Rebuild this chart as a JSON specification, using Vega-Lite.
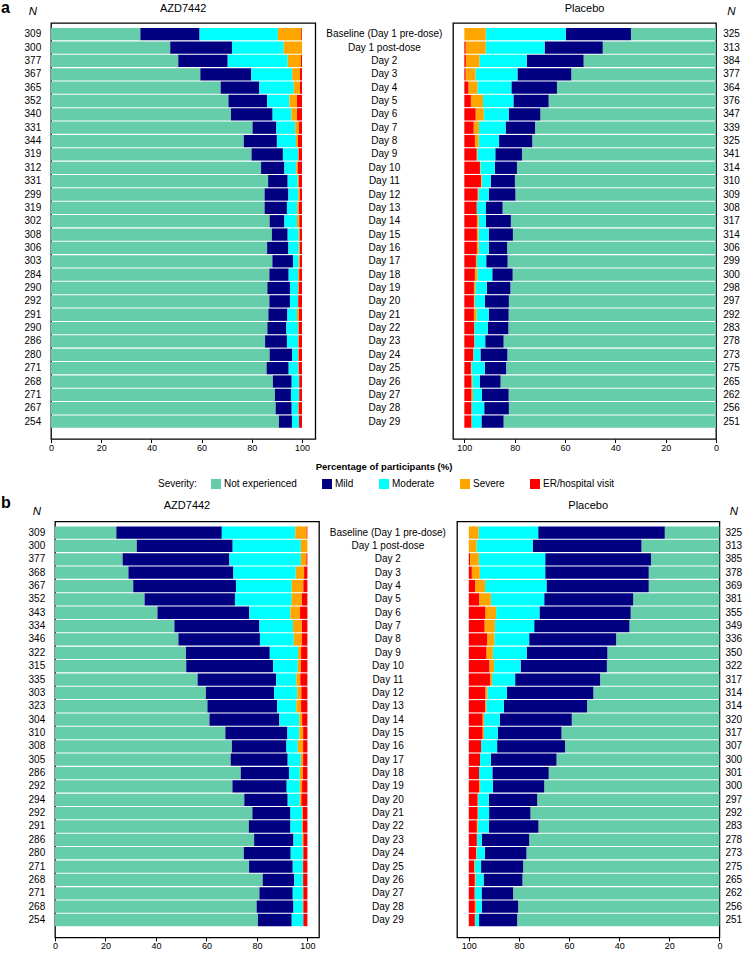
{
"$schema":"https://vega.github.io/schema/vega-lite/v6.json",
"padding":{"left":1,"top":0,"right":0,"bottom":0},
"config":{"view":{"stroke":null},"font":"Liberation Sans",
"title":{"font":"Liberation Sans","color":"#000","fontWeight":"normal","baseline":"alphabetic","frame":"group"},
"axis":{"labelFont":"Liberation Sans","labelColor":"#000","domain":false,"grid":false,"tickColor":"#000","tickSize":3.5,"tickWidth":1,"labelFontSize":9,"labelPadding":1,"labelFlush":false},
"text":{"font":"Liberation Sans","fontSize":10,"color":"#000"},
"legend":{"orient":"none","legendX":157,"legendY":456,"direction":"horizontal","columns":5,"titleOrient":"left","titleFontSize":10,"titleFontWeight":"normal","titleFont":"Liberation Sans","titleColor":"#000","labelFont":"Liberation Sans","labelFontSize":10,"labelColor":"#000","symbolType":"square","symbolSize":100,"symbolStrokeWidth":0,"columnPadding":25,"labelOffset":3,"titlePadding":14}},
"datasets":{
"sev":[{"k":"ne","s":"Not experienced","o":1},{"k":"mi","s":"Mild","o":2},{"k":"mo","s":"Moderate","o":3},{"k":"se","s":"Severe","o":4},{"k":"er","s":"ER/hospital visit","o":5}],
"rows":[
{"p":"a","g":"A","d":"Baseline (Day 1 pre-dose)","n":309,"ne":35.6,"mi":23.6,"mo":31.2,"se":9.3,"er":0.3},
{"p":"a","g":"A","d":"Day 1 post-dose","n":300,"ne":47.5,"mi":24.6,"mo":20.6,"se":7.3,"er":0},
{"p":"a","g":"A","d":"Day 2","n":377,"ne":50.7,"mi":19.7,"mo":23.9,"se":5.3,"er":0.4},
{"p":"a","g":"A","d":"Day 3","n":367,"ne":59.5,"mi":20.3,"mo":16.3,"se":3.1,"er":0.8},
{"p":"a","g":"A","d":"Day 4","n":365,"ne":67.6,"mi":15.4,"mo":13.7,"se":2.5,"er":0.8},
{"p":"a","g":"A","d":"Day 5","n":352,"ne":70.7,"mi":15.4,"mo":8.9,"se":3.0,"er":2.0},
{"p":"a","g":"A","d":"Day 6","n":340,"ne":71.7,"mi":16.6,"mo":7.5,"se":2.2,"er":2.0},
{"p":"a","g":"A","d":"Day 7","n":331,"ne":80.3,"mi":9.5,"mo":7.5,"se":1.5,"er":1.2},
{"p":"a","g":"A","d":"Day 8","n":344,"ne":76.8,"mi":13.2,"mo":7.6,"se":0.8,"er":1.6},
{"p":"a","g":"A","d":"Day 9","n":319,"ne":79.9,"mi":12.5,"mo":6.0,"se":0.3,"er":1.3},
{"p":"a","g":"A","d":"Day 10","n":312,"ne":83.7,"mi":9.3,"mo":4.7,"se":0.6,"er":1.7},
{"p":"a","g":"A","d":"Day 11","n":331,"ne":86.5,"mi":7.8,"mo":4.0,"se":0.4,"er":1.3},
{"p":"a","g":"A","d":"Day 12","n":299,"ne":85.1,"mi":9.5,"mo":3.9,"se":0.6,"er":0.9},
{"p":"a","g":"A","d":"Day 13","n":319,"ne":85.1,"mi":8.9,"mo":4.1,"se":0.6,"er":1.3},
{"p":"a","g":"A","d":"Day 14","n":302,"ne":87.1,"mi":5.9,"mo":5.0,"se":0.9,"er":1.1},
{"p":"a","g":"A","d":"Day 15","n":308,"ne":88.0,"mi":6.3,"mo":4.4,"se":0.4,"er":0.9},
{"p":"a","g":"A","d":"Day 16","n":306,"ne":86.1,"mi":8.5,"mo":4.1,"se":0.4,"er":0.9},
{"p":"a","g":"A","d":"Day 17","n":303,"ne":88.2,"mi":8.2,"mo":2.3,"se":0.4,"er":0.9},
{"p":"a","g":"A","d":"Day 18","n":284,"ne":87.0,"mi":7.7,"mo":3.7,"se":0.5,"er":1.1},
{"p":"a","g":"A","d":"Day 19","n":290,"ne":86.2,"mi":9.0,"mo":3.2,"se":0.3,"er":1.3},
{"p":"a","g":"A","d":"Day 20","n":292,"ne":87.0,"mi":8.2,"mo":3.2,"se":0.1,"er":1.5},
{"p":"a","g":"A","d":"Day 21","n":291,"ne":86.6,"mi":7.6,"mo":3.8,"se":0.8,"er":1.2},
{"p":"a","g":"A","d":"Day 22","n":290,"ne":86.2,"mi":7.6,"mo":4.6,"se":0.3,"er":1.3},
{"p":"a","g":"A","d":"Day 23","n":286,"ne":85.3,"mi":8.7,"mo":4.4,"se":0.3,"er":1.3},
{"p":"a","g":"A","d":"Day 24","n":280,"ne":87.1,"mi":9.0,"mo":2.3,"se":0.3,"er":1.3},
{"p":"a","g":"A","d":"Day 25","n":271,"ne":85.9,"mi":8.8,"mo":3.8,"se":0.2,"er":1.3},
{"p":"a","g":"A","d":"Day 26","n":268,"ne":88.4,"mi":7.5,"mo":2.9,"se":0.1,"er":1.1},
{"p":"a","g":"A","d":"Day 27","n":271,"ne":89.2,"mi":6.4,"mo":3.2,"se":0.1,"er":1.1},
{"p":"a","g":"A","d":"Day 28","n":267,"ne":89.5,"mi":6.4,"mo":2.5,"se":0.3,"er":1.3},
{"p":"a","g":"A","d":"Day 29","n":254,"ne":90.8,"mi":5.2,"mo":2.8,"se":0,"er":1.2},
{"p":"a","g":"P","d":"Baseline (Day 1 pre-dose)","n":325,"ne":33.8,"mi":25.9,"mo":31.8,"se":8.5,"er":0},
{"p":"a","g":"P","d":"Day 1 post-dose","n":313,"ne":45.0,"mi":23.1,"mo":23.4,"se":8.0,"er":0.5},
{"p":"a","g":"P","d":"Day 2","n":384,"ne":52.6,"mi":22.6,"mo":18.8,"se":5.4,"er":0.6},
{"p":"a","g":"P","d":"Day 3","n":377,"ne":57.5,"mi":21.4,"mo":16.7,"se":3.9,"er":0.5},
{"p":"a","g":"P","d":"Day 4","n":364,"ne":63.2,"mi":18.1,"mo":13.5,"se":3.6,"er":1.6},
{"p":"a","g":"P","d":"Day 5","n":376,"ne":66.5,"mi":14.0,"mo":12.1,"se":4.8,"er":2.6},
{"p":"a","g":"P","d":"Day 6","n":347,"ne":69.8,"mi":12.6,"mo":9.9,"se":3.2,"er":4.5},
{"p":"a","g":"P","d":"Day 7","n":339,"ne":71.9,"mi":11.7,"mo":10.6,"se":2.1,"er":3.7},
{"p":"a","g":"P","d":"Day 8","n":325,"ne":73.0,"mi":13.2,"mo":8.1,"se":1.5,"er":4.2},
{"p":"a","g":"P","d":"Day 9","n":341,"ne":77.1,"mi":10.6,"mo":7.1,"se":0.3,"er":4.9},
{"p":"a","g":"P","d":"Day 10","n":314,"ne":79.1,"mi":8.8,"mo":5.7,"se":0.2,"er":6.2},
{"p":"a","g":"P","d":"Day 11","n":310,"ne":79.9,"mi":9.6,"mo":3.6,"se":0.3,"er":6.6},
{"p":"a","g":"P","d":"Day 12","n":309,"ne":79.7,"mi":10.6,"mo":4.1,"se":0.3,"er":5.3},
{"p":"a","g":"P","d":"Day 13","n":308,"ne":84.8,"mi":6.6,"mo":3.6,"se":0.1,"er":4.9},
{"p":"a","g":"P","d":"Day 14","n":317,"ne":81.5,"mi":9.9,"mo":3.0,"se":0.6,"er":5.0},
{"p":"a","g":"P","d":"Day 15","n":314,"ne":80.7,"mi":9.6,"mo":4.1,"se":0.6,"er":5.0},
{"p":"a","g":"P","d":"Day 16","n":306,"ne":83.0,"mi":7.3,"mo":4.0,"se":0.7,"er":5.0},
{"p":"a","g":"P","d":"Day 17","n":299,"ne":82.8,"mi":8.5,"mo":3.7,"se":0.4,"er":4.6},
{"p":"a","g":"P","d":"Day 18","n":300,"ne":80.8,"mi":8.1,"mo":5.9,"se":1.0,"er":4.2},
{"p":"a","g":"P","d":"Day 19","n":298,"ne":81.7,"mi":9.4,"mo":4.5,"se":0.6,"er":3.8},
{"p":"a","g":"P","d":"Day 20","n":297,"ne":82.3,"mi":9.5,"mo":4.1,"se":0.3,"er":3.8},
{"p":"a","g":"P","d":"Day 21","n":292,"ne":82.4,"mi":7.9,"mo":4.8,"se":1.1,"er":3.8},
{"p":"a","g":"P","d":"Day 22","n":283,"ne":82.5,"mi":8.2,"mo":5.3,"se":0.1,"er":3.9},
{"p":"a","g":"P","d":"Day 23","n":278,"ne":84.4,"mi":7.3,"mo":4.3,"se":0.1,"er":3.9},
{"p":"a","g":"P","d":"Day 24","n":273,"ne":82.9,"mi":10.7,"mo":2.8,"se":0.1,"er":3.5},
{"p":"a","g":"P","d":"Day 25","n":275,"ne":83.4,"mi":8.5,"mo":5.3,"se":0.2,"er":2.6},
{"p":"a","g":"P","d":"Day 26","n":265,"ne":85.6,"mi":8.3,"mo":2.9,"se":0.4,"er":2.8},
{"p":"a","g":"P","d":"Day 27","n":262,"ne":82.4,"mi":10.6,"mo":3.6,"se":0.6,"er":2.8},
{"p":"a","g":"P","d":"Day 28","n":256,"ne":82.3,"mi":9.8,"mo":5.0,"se":0.1,"er":2.8},
{"p":"a","g":"P","d":"Day 29","n":251,"ne":84.4,"mi":8.8,"mo":3.9,"se":0.1,"er":2.8},
{"p":"b","g":"A","d":"Baseline (Day 1 pre-dose)","n":309,"ne":24.3,"mi":41.8,"mo":29.1,"se":4.5,"er":0.3},
{"p":"b","g":"A","d":"Day 1 post-dose","n":300,"ne":32.4,"mi":38.0,"mo":27.0,"se":2.6,"er":0},
{"p":"b","g":"A","d":"Day 2","n":377,"ne":26.8,"mi":42.3,"mo":28.3,"se":2.2,"er":0.4},
{"p":"b","g":"A","d":"Day 3","n":368,"ne":29.1,"mi":41.6,"mo":24.7,"se":3.3,"er":1.3},
{"p":"b","g":"A","d":"Day 4","n":367,"ne":31.0,"mi":40.7,"mo":22.1,"se":4.6,"er":1.6},
{"p":"b","g":"A","d":"Day 5","n":352,"ne":35.5,"mi":35.8,"mo":22.5,"se":4.0,"er":2.2},
{"p":"b","g":"A","d":"Day 6","n":343,"ne":40.6,"mi":36.4,"mo":16.3,"se":3.8,"er":2.9},
{"p":"b","g":"A","d":"Day 7","n":334,"ne":47.3,"mi":33.7,"mo":13.3,"se":3.5,"er":2.2},
{"p":"b","g":"A","d":"Day 8","n":346,"ne":48.9,"mi":32.3,"mo":13.4,"se":3.2,"er":2.2},
{"p":"b","g":"A","d":"Day 9","n":322,"ne":51.9,"mi":33.2,"mo":11.2,"se":1.2,"er":2.5},
{"p":"b","g":"A","d":"Day 10","n":315,"ne":52.0,"mi":34.4,"mo":9.8,"se":1.2,"er":2.6},
{"p":"b","g":"A","d":"Day 11","n":335,"ne":56.5,"mi":31.1,"mo":8.0,"se":1.6,"er":2.8},
{"p":"b","g":"A","d":"Day 12","n":303,"ne":59.8,"mi":27.0,"mo":9.2,"se":1.6,"er":2.4},
{"p":"b","g":"A","d":"Day 13","n":323,"ne":60.4,"mi":27.6,"mo":7.6,"se":1.9,"er":2.5},
{"p":"b","g":"A","d":"Day 14","n":304,"ne":61.2,"mi":27.7,"mo":7.9,"se":1.1,"er":2.1},
{"p":"b","g":"A","d":"Day 15","n":310,"ne":67.5,"mi":24.6,"mo":4.7,"se":1.5,"er":1.7},
{"p":"b","g":"A","d":"Day 16","n":308,"ne":70.1,"mi":21.6,"mo":4.5,"se":2.1,"er":1.7},
{"p":"b","g":"A","d":"Day 17","n":305,"ne":69.6,"mi":22.6,"mo":5.2,"se":0.9,"er":1.7},
{"p":"b","g":"A","d":"Day 18","n":286,"ne":73.6,"mi":19.1,"mo":4.3,"se":1.2,"er":1.8},
{"p":"b","g":"A","d":"Day 19","n":292,"ne":70.3,"mi":21.5,"mo":5.2,"se":0.9,"er":2.1},
{"p":"b","g":"A","d":"Day 20","n":294,"ne":75.0,"mi":17.2,"mo":4.8,"se":0.6,"er":2.4},
{"p":"b","g":"A","d":"Day 21","n":292,"ne":78.2,"mi":15.1,"mo":4.6,"se":0.3,"er":1.8},
{"p":"b","g":"A","d":"Day 22","n":291,"ne":76.8,"mi":16.5,"mo":4.6,"se":0.3,"er":1.8},
{"p":"b","g":"A","d":"Day 23","n":286,"ne":78.9,"mi":15.6,"mo":3.5,"se":0.4,"er":1.6},
{"p":"b","g":"A","d":"Day 24","n":280,"ne":74.8,"mi":18.6,"mo":4.8,"se":0.2,"er":1.6},
{"p":"b","g":"A","d":"Day 25","n":271,"ne":76.9,"mi":17.3,"mo":4.0,"se":0.1,"er":1.7},
{"p":"b","g":"A","d":"Day 26","n":268,"ne":82.3,"mi":12.5,"mo":3.4,"se":0.1,"er":1.7},
{"p":"b","g":"A","d":"Day 27","n":271,"ne":81.0,"mi":13.2,"mo":4.0,"se":0.2,"er":1.6},
{"p":"b","g":"A","d":"Day 28","n":268,"ne":79.9,"mi":14.6,"mo":3.7,"se":0.2,"er":1.6},
{"p":"b","g":"A","d":"Day 29","n":254,"ne":80.4,"mi":13.4,"mo":4.6,"se":0,"er":1.6},
{"p":"b","g":"P","d":"Baseline (Day 1 pre-dose)","n":325,"ne":21.8,"mi":50.5,"mo":23.8,"se":3.9,"er":0},
{"p":"b","g":"P","d":"Day 1 post-dose","n":313,"ne":31.1,"mi":43.4,"mo":22.4,"se":3.1,"er":0},
{"p":"b","g":"P","d":"Day 2","n":385,"ne":27.3,"mi":42.2,"mo":26.5,"se":3.5,"er":0.5},
{"p":"b","g":"P","d":"Day 3","n":378,"ne":28.2,"mi":41.3,"mo":26.1,"se":3.2,"er":1.2},
{"p":"b","g":"P","d":"Day 4","n":369,"ne":28.2,"mi":40.8,"mo":24.5,"se":4.0,"er":2.5},
{"p":"b","g":"P","d":"Day 5","n":381,"ne":34.4,"mi":35.5,"mo":21.3,"se":4.7,"er":4.1},
{"p":"b","g":"P","d":"Day 6","n":355,"ne":35.4,"mi":36.4,"mo":17.3,"se":4.3,"er":6.6},
{"p":"b","g":"P","d":"Day 7","n":349,"ne":35.9,"mi":38.0,"mo":15.7,"se":4.1,"er":6.3},
{"p":"b","g":"P","d":"Day 8","n":336,"ne":41.2,"mi":34.7,"mo":13.9,"se":2.9,"er":7.3},
{"p":"b","g":"P","d":"Day 9","n":350,"ne":44.7,"mi":32.2,"mo":13.5,"se":2.6,"er":7.0},
{"p":"b","g":"P","d":"Day 10","n":322,"ne":44.9,"mi":34.4,"mo":10.6,"se":1.9,"er":8.2},
{"p":"b","g":"P","d":"Day 11","n":317,"ne":47.6,"mi":33.9,"mo":9.2,"se":0.8,"er":8.5},
{"p":"b","g":"P","d":"Day 12","n":314,"ne":50.3,"mi":34.5,"mo":7.8,"se":0.8,"er":6.6},
{"p":"b","g":"P","d":"Day 13","n":314,"ne":52.8,"mi":33.2,"mo":7.0,"se":0.5,"er":6.5},
{"p":"b","g":"P","d":"Day 14","n":320,"ne":58.9,"mi":28.7,"mo":6.3,"se":0.6,"er":5.5},
{"p":"b","g":"P","d":"Day 15","n":317,"ne":63.0,"mi":25.4,"mo":5.5,"se":0.6,"er":5.5},
{"p":"b","g":"P","d":"Day 16","n":307,"ne":61.6,"mi":27.1,"mo":6.4,"se":0,"er":4.9},
{"p":"b","g":"P","d":"Day 17","n":300,"ne":65.0,"mi":26.2,"mo":4.3,"se":0,"er":4.5},
{"p":"b","g":"P","d":"Day 18","n":301,"ne":68.1,"mi":22.5,"mo":5.3,"se":0,"er":4.1},
{"p":"b","g":"P","d":"Day 19","n":300,"ne":69.9,"mi":20.5,"mo":5.1,"se":0.4,"er":4.1},
{"p":"b","g":"P","d":"Day 20","n":297,"ne":72.7,"mi":19.3,"mo":4.3,"se":0.2,"er":3.5},
{"p":"b","g":"P","d":"Day 21","n":292,"ne":75.4,"mi":16.5,"mo":4.4,"se":0.2,"er":3.5},
{"p":"b","g":"P","d":"Day 22","n":283,"ne":72.2,"mi":19.8,"mo":4.4,"se":0.4,"er":3.2},
{"p":"b","g":"P","d":"Day 23","n":278,"ne":75.9,"mi":18.9,"mo":1.9,"se":0.1,"er":3.2},
{"p":"b","g":"P","d":"Day 24","n":273,"ne":77.0,"mi":16.6,"mo":3.3,"se":0.2,"er":2.9},
{"p":"b","g":"P","d":"Day 25","n":275,"ne":78.3,"mi":16.8,"mo":2.5,"se":0.3,"er":2.1},
{"p":"b","g":"P","d":"Day 26","n":265,"ne":78.6,"mi":15.5,"mo":3.2,"se":0.3,"er":2.4},
{"p":"b","g":"P","d":"Day 27","n":262,"ne":82.3,"mi":12.6,"mo":2.7,"se":0.1,"er":2.3},
{"p":"b","g":"P","d":"Day 28","n":256,"ne":80.3,"mi":14.5,"mo":2.3,"se":0.5,"er":2.4},
{"p":"b","g":"P","d":"Day 29","n":251,"ne":80.7,"mi":15.2,"mo":1.6,"se":0.1,"er":2.4}
]},
"data":{"name":"rows"},
"spacing":23.4,
"vconcat":[
{"hconcat":[
 {"width":14,"height":416,"data":{"values":[{"t":""}]},"title":{"text":"a","fontSize":16,"fontWeight":"bold","anchor":"start","offset":7},"mark":"text","encoding":{"text":{"field":"t"}}},
 {"width":35.7,"height":416,"title":{"text":"N","fontSize":11.5,"fontStyle":"italic","offset":5.3},"transform":[{"filter":"datum.p=='a' && datum.g=='A'"}],"mark":"text","encoding":{"y":{"field":"d","type":"nominal","sort":null,"axis":null,"scale":{"type":"band","paddingInner":0.08,"paddingOuter":0.61,"align":0.31}},"text":{"field":"n"}}},
 {"width":264.3,"height":416,"view":{"stroke":"#000","strokeWidth":1.3},"title":{"text":"AZD7442","fontSize":11,"offset":8.7},
  "transform":[{"filter":"datum.p=='a' && datum.g=='A'"},{"fold":["ne","mi","mo","se","er"],"as":["k","v"]},{"lookup":"k","from":{"data":{"name":"sev"},"key":"k","fields":["s","o"]}}],
  "mark":"bar","encoding":{"y":{"field":"d","type":"nominal","sort":null,"axis":null,"scale":{"type":"band","paddingInner":0.08,"paddingOuter":0.61,"align":0.31}},
  "x":{"field":"v","type":"quantitative","stack":"zero","scale":{"domain":[0,105.3],"nice":false},"axis":{"values":[0,20,40,60,80,100],"title":null}},
  "color":{"field":"s","type":"nominal","title":"Severity:","scale":{"domain":["Not experienced","Mild","Moderate","Severe","ER/hospital visit"],"range":["#66CDAA","#000080","#00FFFF","#FFA500","#FF0000"]}},
  "order":{"field":"o","type":"quantitative"}}},
 {"width":136.7,"height":416,"transform":[{"filter":"datum.p=='a' && datum.g=='A'"}],"mark":"text","encoding":{"y":{"field":"d","type":"nominal","sort":null,"axis":null,"scale":{"type":"band","paddingInner":0.08,"paddingOuter":0.61,"align":0.31}},"text":{"field":"d"}}},
 {"width":263,"height":416,"view":{"stroke":"#000","strokeWidth":1.3},"title":{"text":"Placebo","fontSize":11,"offset":9.3},
  "transform":[{"filter":"datum.p=='a' && datum.g=='P'"},{"fold":["ne","mi","mo","se","er"],"as":["k","v"]},{"lookup":"k","from":{"data":{"name":"sev"},"key":"k","fields":["s","o"]}}],
  "mark":"bar","encoding":{"y":{"field":"d","type":"nominal","sort":null,"axis":null,"scale":{"type":"band","paddingInner":0.08,"paddingOuter":0.61,"align":0.31}},
  "x":{"field":"v","type":"quantitative","stack":"zero","scale":{"domain":[0,104.5],"nice":false,"reverse":true},"axis":{"values":[0,20,40,60,80,100],"title":null}},
  "color":{"field":"s","type":"nominal","title":"Severity:","scale":{"domain":["Not experienced","Mild","Moderate","Severe","ER/hospital visit"],"range":["#66CDAA","#000080","#00FFFF","#FFA500","#FF0000"]}},
  "order":{"field":"o","type":"quantitative"}}},
 {"width":31,"height":416,"title":{"text":"N","fontSize":11.5,"fontStyle":"italic","offset":5.3},"transform":[{"filter":"datum.p=='a' && datum.g=='P'"}],"mark":"text","encoding":{"y":{"field":"d","type":"nominal","sort":null,"axis":null,"scale":{"type":"band","paddingInner":0.08,"paddingOuter":0.61,"align":0.31}},"text":{"field":"n"}}}
 ],"spacing":0,"bounds":"flush",
 "title":{"text":"Percentage of participants (%)","orient":"bottom","anchor":"middle","frame":"bounds","dx":10,"offset":8.8,"fontSize":9.5,"fontWeight":"bold"}},
{"hconcat":[
 {"width":17.6,"height":416,"data":{"values":[{"t":""}]},"title":{"text":"b","fontSize":16,"fontWeight":"bold","anchor":"start","offset":10},"mark":"text","encoding":{"text":{"field":"t"}}},
 {"width":35.7,"height":416,"title":{"text":"N","fontSize":11.5,"fontStyle":"italic","offset":4.4},"transform":[{"filter":"datum.p=='b' && datum.g=='A'"}],"mark":"text","encoding":{"y":{"field":"d","type":"nominal","sort":null,"axis":null,"scale":{"type":"band","paddingInner":0.08,"paddingOuter":0.61,"align":0.31}},"text":{"field":"n"}}},
 {"width":264,"height":416,"view":{"stroke":"#000","strokeWidth":1.3},"title":{"text":"AZD7442","fontSize":11,"offset":10},
  "transform":[{"filter":"datum.p=='b' && datum.g=='A'"},{"fold":["ne","mi","mo","se","er"],"as":["k","v"]},{"lookup":"k","from":{"data":{"name":"sev"},"key":"k","fields":["s","o"]}}],
  "mark":"bar","encoding":{"y":{"field":"d","type":"nominal","sort":null,"axis":null,"scale":{"type":"band","paddingInner":0.08,"paddingOuter":0.61,"align":0.31}},
  "x":{"field":"v","type":"quantitative","stack":"zero","scale":{"domain":[0,104.6],"nice":false},"axis":{"values":[0,20,40,60,80,100],"title":null}},
  "color":{"field":"s","type":"nominal","title":"Severity:","scale":{"domain":["Not experienced","Mild","Moderate","Severe","ER/hospital visit"],"range":["#66CDAA","#000080","#00FFFF","#FFA500","#FF0000"]}},
  "order":{"field":"o","type":"quantitative"}}},
 {"width":137.7,"height":416,"transform":[{"filter":"datum.p=='b' && datum.g=='A'"}],"mark":"text","encoding":{"y":{"field":"d","type":"nominal","sort":null,"axis":null,"scale":{"type":"band","paddingInner":0.08,"paddingOuter":0.61,"align":0.31}},"text":{"field":"d"}}},
 {"width":262.4,"height":416,"view":{"stroke":"#000","strokeWidth":1.3},"title":{"text":"Placebo","fontSize":11,"offset":10.7},
  "transform":[{"filter":"datum.p=='b' && datum.g=='P'"},{"fold":["ne","mi","mo","se","er"],"as":["k","v"]},{"lookup":"k","from":{"data":{"name":"sev"},"key":"k","fields":["s","o"]}}],
  "mark":"bar","encoding":{"y":{"field":"d","type":"nominal","sort":null,"axis":null,"scale":{"type":"band","paddingInner":0.08,"paddingOuter":0.61,"align":0.31}},
  "x":{"field":"v","type":"quantitative","stack":"zero","scale":{"domain":[0,104.7],"nice":false,"reverse":true},"axis":{"values":[0,20,40,60,80,100],"title":null}},
  "color":{"field":"s","type":"nominal","title":"Severity:","scale":{"domain":["Not experienced","Mild","Moderate","Severe","ER/hospital visit"],"range":["#66CDAA","#000080","#00FFFF","#FFA500","#FF0000"]}},
  "order":{"field":"o","type":"quantitative"}}},
 {"width":27.6,"height":416,"title":{"text":"N","fontSize":11.5,"fontStyle":"italic","offset":4.4},"transform":[{"filter":"datum.p=='b' && datum.g=='P'"}],"mark":"text","encoding":{"y":{"field":"d","type":"nominal","sort":null,"axis":null,"scale":{"type":"band","paddingInner":0.08,"paddingOuter":0.61,"align":0.31}},"text":{"field":"n"}}}
 ],"spacing":0,"bounds":"flush"}
]
}
